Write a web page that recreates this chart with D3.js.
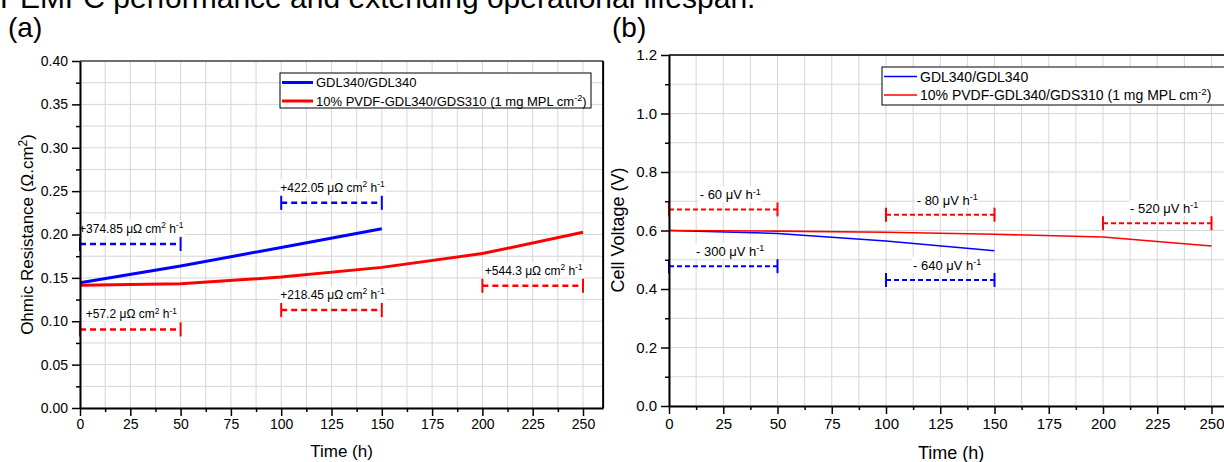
<!DOCTYPE html>
<html><head><meta charset="utf-8">
<script src="https://cdn.jsdelivr.net/npm/d3@7"></script>
<style>body{margin:0;background:#fff} svg{display:block;font-family:Arial,"Liberation Sans",sans-serif}</style>
</head><body><svg id="c" width="1224" height="462"></svg>
<script>
// ---------- data ----------
const xTickLabels = [0,25,50,75,100,125,150,175,200,225,250];
const yTickLabelsA = [0,0.05,0.10,0.15,0.20,0.25,0.30,0.35,0.40];
const yTickLabelsB = [0,0.2,0.4,0.6,0.8,1.0,1.2];
const seriesNames = ["GDL340/GDL340", "10% PVDF-GDL340/GDS310 (1 mg MPL cm", "-2", ")"];

const timeBlue = [0,50,100,150];
const timeRed = [0,50,100,150,200,250];
const resistanceBlue = [0.1444,0.1636,0.1851,0.2066];
const resistanceRed = [0.1414,0.1432,0.1509,0.1621,0.1780,0.2025];
const voltageBlue = [0.600,0.590,0.564,0.531];
const voltageRed = [0.600,0.598,0.594,0.587,0.578,0.547];

const rateLabelsA = ["+374.85","+422.05","+57.2","+218.45","+544.3"];
const rateStartA = [0,100,0,100,200];
const rateEndA = [50,150,50,150,250];
const rateLevelA = [0.189,0.2365,0.0906,0.1129,0.1409];
const rateSeriesA = ["blue","blue","red","red","red"];

const rateLabelsB = ["- 60","- 80","- 520","- 300","- 640"];
const rateStartB = [0,100,200,0,100];
const rateEndB = [50,150,250,50,150];
const rateLevelB = [0.672,0.654,0.625,0.478,0.431];
const rateSeriesB = ["red","red","red","blue","blue"];

const colors = {blue:"#0000ff", red:"#ff0000"};

// ---------- helpers ----------
const svg = d3.select("#c");
function richText(g, x, y, parts, fs, anchor) {
  const t = g.append("text").attr("x", x).attr("y", y).attr("font-size", fs)
    .attr("text-anchor", anchor || "start").attr("fill", "#000");
  let shift = 0;
  parts.forEach(([s, sup]) => {
    const target = sup ? -fs * 0.38 : 0;
    t.append("tspan").attr("dy", target - shift).attr("font-size", sup ? fs * 0.7 : fs).text(s);
    shift = target;
  });
  return t;
}

function panel(cfg) {
  const g = svg.append("g");
  const x = d3.scaleLinear().domain([0, 260]).range([cfg.x0, cfg.x0 + 260 * cfg.px]);
  const y = d3.scaleLinear().domain([0, cfg.ymax]).range([cfg.y0, cfg.y1]);
  const xGrid = d3.range(0, 260.01, 12.5);
  const yGrid = d3.range(0, cfg.ymax + 1e-9, cfg.yminor);
  // grid
  g.append("g").selectAll("line").data(xGrid).join("line")
    .attr("x1", d => x(d)).attr("x2", d => x(d)).attr("y1", cfg.y0).attr("y2", cfg.y1)
    .attr("stroke", "#d6d6d6").attr("stroke-width", 1);
  g.append("g").selectAll("line").data(yGrid).join("line")
    .attr("y1", d => y(d)).attr("y2", d => y(d)).attr("x1", cfg.x0).attr("x2", x(260))
    .attr("stroke", "#d6d6d6").attr("stroke-width", 1);

  // annotations
  cfg.rates.labels.forEach((lab, i) => {
    const c = colors[cfg.rates.series[i]];
    const a = x(cfg.rates.start[i]), b = x(cfg.rates.end[i]), yy = y(cfg.rates.level[i]);
    const ag = g.append("g");
    const bg = ag.append("rect").attr("fill", "#fff");
    const t = richText(ag, (a + b) / 2 + cfg.textDx, yy - cfg.textGap, cfg.unit(lab), cfg.annFs, "middle");
    const bb = t.node().getBBox();
    bg.attr("x", bb.x - 1).attr("y", bb.y).attr("width", bb.width + 2).attr("height", bb.height);
    ag.append("line").attr("x1", a).attr("x2", b).attr("y1", yy).attr("y2", yy)
      .attr("stroke", c).attr("stroke-width", cfg.dashW).attr("stroke-dasharray", cfg.dash);
    [a, b].forEach(xx => ag.append("line").attr("x1", xx).attr("x2", xx)
      .attr("y1", yy - 7).attr("y2", yy + 7).attr("stroke", c).attr("stroke-width", 2));
  });

  // data lines
  const line = d3.line().x(d => x(d[0])).y(d => y(d[1]));
  cfg.series.forEach(s => {
    g.append("path").datum(s.t.map((tt, i) => [tt, s.v[i]])).attr("d", line)
      .attr("fill", "none").attr("stroke", colors[s.c]).attr("stroke-width", cfg.lineW);
  });

  // frame (top / right)
  g.append("line").attr("x1", cfg.x0).attr("x2", x(260)).attr("y1", cfg.y1).attr("y2", cfg.y1)
    .attr("stroke", cfg.topColor).attr("stroke-width", 1.5);
  g.append("line").attr("x1", x(260)).attr("x2", x(260)).attr("y1", cfg.y1).attr("y2", cfg.y0)
    .attr("stroke", "#000").attr("stroke-width", 2);

  // axes
  const minorX = d3.range(12.5, 260, 25);
  const ax = g.append("g").attr("transform", `translate(0,${cfg.y0})`)
    .call(d3.axisBottom(x).tickValues(xTickLabels).tickSizeInner(8).tickSizeOuter(0).tickPadding(cfg.xPad).tickFormat(d3.format("d")));
  g.append("g").attr("transform", `translate(0,${cfg.y0})`)
    .call(d3.axisBottom(x).tickValues(minorX).tickSize(4).tickFormat("")).select(".domain").remove();
  const ay = g.append("g").attr("transform", `translate(${cfg.x0},0)`)
    .call(d3.axisLeft(y).tickValues(cfg.yTicks).tickSizeInner(8).tickSizeOuter(0).tickPadding(4).tickFormat(d3.format(cfg.yfmt)));
  g.append("g").attr("transform", `translate(${cfg.x0},0)`)
    .call(d3.axisLeft(y).tickValues(cfg.yMinorTicks).tickSize(4).tickFormat("")).select(".domain").remove();
  [ax, ay].forEach(a => {
    a.select(".domain").attr("stroke", "#000").attr("stroke-width", 2);
    a.selectAll("text").attr("font-size", cfg.tickFs).attr("fill", "#000")
      .attr("font-family", 'Arial,"Liberation Sans",sans-serif');
  });
  g.selectAll(".tick line").attr("stroke", "#000").attr("stroke-width", 1.5);

  // axis titles
  g.append("text").attr("x", (cfg.x0 + x(260)) / 2).attr("y", cfg.xlabY).attr("text-anchor", "middle")
    .attr("font-size", cfg.labFs).text("Time (h)");
  richText(g.append("g").attr("transform", `translate(${cfg.ylabX},${cfg.ylabY}) rotate(-90)`), 0, 0, cfg.ylab, cfg.labFs, "middle");

  // legend
  const L = cfg.legend;
  const lg = g.append("g");
  lg.append("rect").attr("x", L.x).attr("y", L.y).attr("width", L.w).attr("height", L.h)
    .attr("fill", "#fff").attr("stroke", "#000").attr("stroke-width", 1);
  [["blue", [[seriesNames[0], 0]]], ["red", [[seriesNames[1], 0], [seriesNames[2], 1], [seriesNames[3], 0]]]].forEach(([c, parts], i) => {
    const ry = L.y + L.row0 + i * L.dy;
    lg.append("line").attr("x1", L.x + 2).attr("x2", L.x + 2 + L.len).attr("y1", ry).attr("y2", ry)
      .attr("stroke", colors[c]).attr("stroke-width", cfg.legW);
    richText(lg, L.x + L.len + 5, ry + L.fs * 0.36, parts, L.fs, "start");
  });
}

// ---------- panel (a) ----------
panel({
  x0: 80, px: 2.012, y0: 408, y1: 61, ymax: 0.40, yminor: 0.025, minorStep: 0.05,
  yTicks: yTickLabelsA, yMinorTicks: d3.range(0.025, 0.4, 0.05), yfmt: ".2f",
  tickFs: 14, labFs: 17, annFs: 12, xPad: 3, xlabY: 457, ylabX: 33, ylabY: 234.5,
  ylab: [["Ohmic Resistance (Ω.cm", 0], ["2", 1], [")", 0]],
  lineW: 3, dashW: 2.5, dash: "6,4", legW: 3, textDx: 1, textGap: 11, topColor: "#444",
  unit: l => [[l + " μΩ cm", 0], ["2", 1], [" h", 0], ["-1", 1]],
  rates: {labels: rateLabelsA, start: rateStartA, end: rateEndA, level: rateLevelA, series: rateSeriesA},
  series: [{t: timeBlue, v: resistanceBlue, c: "blue"}, {t: timeRed, v: resistanceRed, c: "red"}],
  legend: {x: 280, y: 73, w: 311, h: 35, row0: 9.5, dy: 18.5, len: 31, fs: 13}
});

// ---------- panel (b) ----------
panel({
  x0: 669, px: 2.17, y0: 406, y1: 55, ymax: 1.2, yminor: 0.1, minorStep: 0.2,
  yTicks: yTickLabelsB, yMinorTicks: d3.range(0.1, 1.2, 0.2), yfmt: ".1f",
  tickFs: 15, labFs: 18, annFs: 13, xPad: 4, xlabY: 459, ylabX: 624, ylabY: 230,
  ylab: [["Cell Voltage (V)", 0]],
  lineW: 1.6, dashW: 2, dash: "5,3", legW: 1.6, textDx: 7, textGap: 10, topColor: "#000",
  unit: l => [[l + " μV h", 0], ["-1", 1]],
  rates: {labels: rateLabelsB, start: rateStartB, end: rateEndB, level: rateLevelB, series: rateSeriesB},
  series: [{t: timeBlue, v: voltageBlue, c: "blue"}, {t: timeRed, v: voltageRed, c: "red"}],
  legend: {x: 882, y: 67, w: 345, h: 38, row0: 9.5, dy: 18.5, len: 33, fs: 14}
});

// ---------- headings ----------
svg.append("text").attr("x", 0).attr("y", 8).attr("font-size", 30).text("PEMFC performance and extending operational lifespan.");
svg.append("text").attr("x", 8).attr("y", 37).attr("font-size", 28).text("(a)");
svg.append("text").attr("x", 612).attr("y", 37).attr("font-size", 28).text("(b)");
</script></body></html>
